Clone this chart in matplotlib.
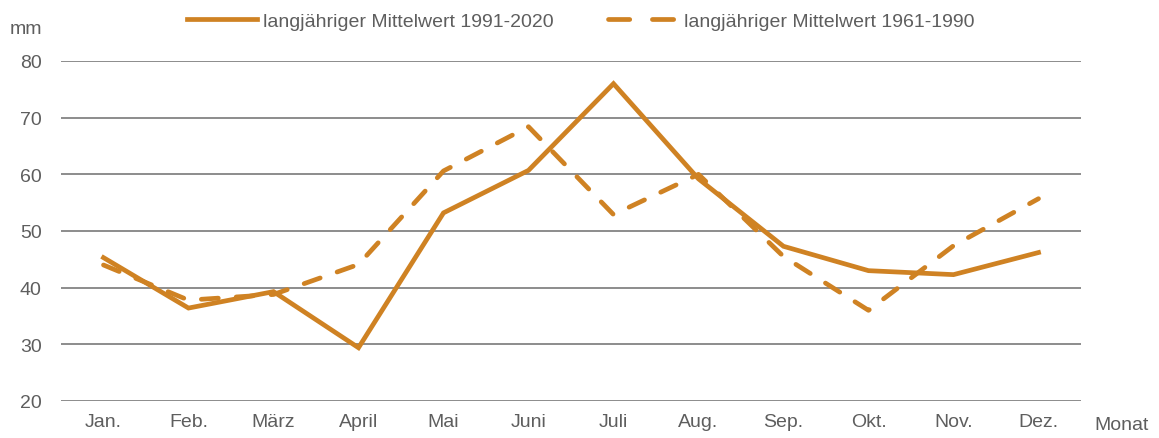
import numpy as np
import matplotlib
matplotlib.use("Agg")
import matplotlib.pyplot as plt

months = ["Jan.", "Feb.", "März", "April", "Mai", "Juni",
          "Juli", "Aug.", "Sep.", "Okt.", "Nov.", "Dez."]
mean_1991_2020 = [45.3, 36.4, 39.3, 29.4, 53.2, 60.7, 76.0, 59.2, 47.3, 43.0, 42.3, 46.2]
mean_1961_1990 = [44.0, 37.8, 38.8, 44.1, 60.6, 68.4, 52.9, 60.0, 45.5, 36.0, 47.4, 55.7]
y_ticks = [20, 30, 40, 50, 60, 70, 80]

orange = "#CF8223"
grey_text = "#5E5E5E"
grid_col = "#8C8C8C"
fs = 14

plt.rcParams['font.family'] = ['Liberation Sans', 'DejaVu Sans']

fig = plt.figure(figsize=(11.59, 4.39), dpi=100)
# axes box in pixels: left 61, right 1081, top 62, bottom 402
ax = fig.add_axes([61 / 1159, 1 - 402 / 439, 1020 / 1159, 340 / 439])

x = np.arange(len(months))
ax.plot(x, mean_1991_2020, color=orange, lw=3.4, solid_joinstyle='miter',
        label="langjähriger Mittelwert 1991-2020")
ax.plot(x, mean_1961_1990, color=orange, lw=3.4, dashes=[3.6, 3.8],
        dash_capstyle='round', label="langjähriger Mittelwert 1961-1990")

ax.set_xlim(-0.5, len(months) - 0.5)
ax.set_ylim(20, 80)
ax.set_yticks(y_ticks)
ax.set_xticks(x)
ax.set_xticklabels(months)

for t in y_ticks:
    ax.axhline(t, color=grid_col, lw=1.4, zorder=0)

for s in ax.spines.values():
    s.set_visible(False)
ax.tick_params(length=0, colors=grey_text, labelsize=fs)
ax.tick_params(axis='y', pad=14)
ax.tick_params(axis='x', pad=9)

fig.text(10 / 1159, 1 - 30 / 439, "mm", color=grey_text, fontsize=fs,
         ha='left', va='center')
fig.text(1094 / 1159, 1 - 426 / 439, "Monat", color=grey_text, fontsize=fs,
         ha='left', va='center')

leg = fig.legend(loc='center', bbox_to_anchor=(581 / 1159, 1 - 22 / 439), ncol=2,
                 frameon=False, fontsize=fs, labelcolor=grey_text,
                 handlelength=3.6, handletextpad=0.3, columnspacing=2.8)
# two dashes only in the legend sample
leg.get_lines()[1].set_dashes([4.5, 4.8])

fig.savefig("out.png", dpi=100)
